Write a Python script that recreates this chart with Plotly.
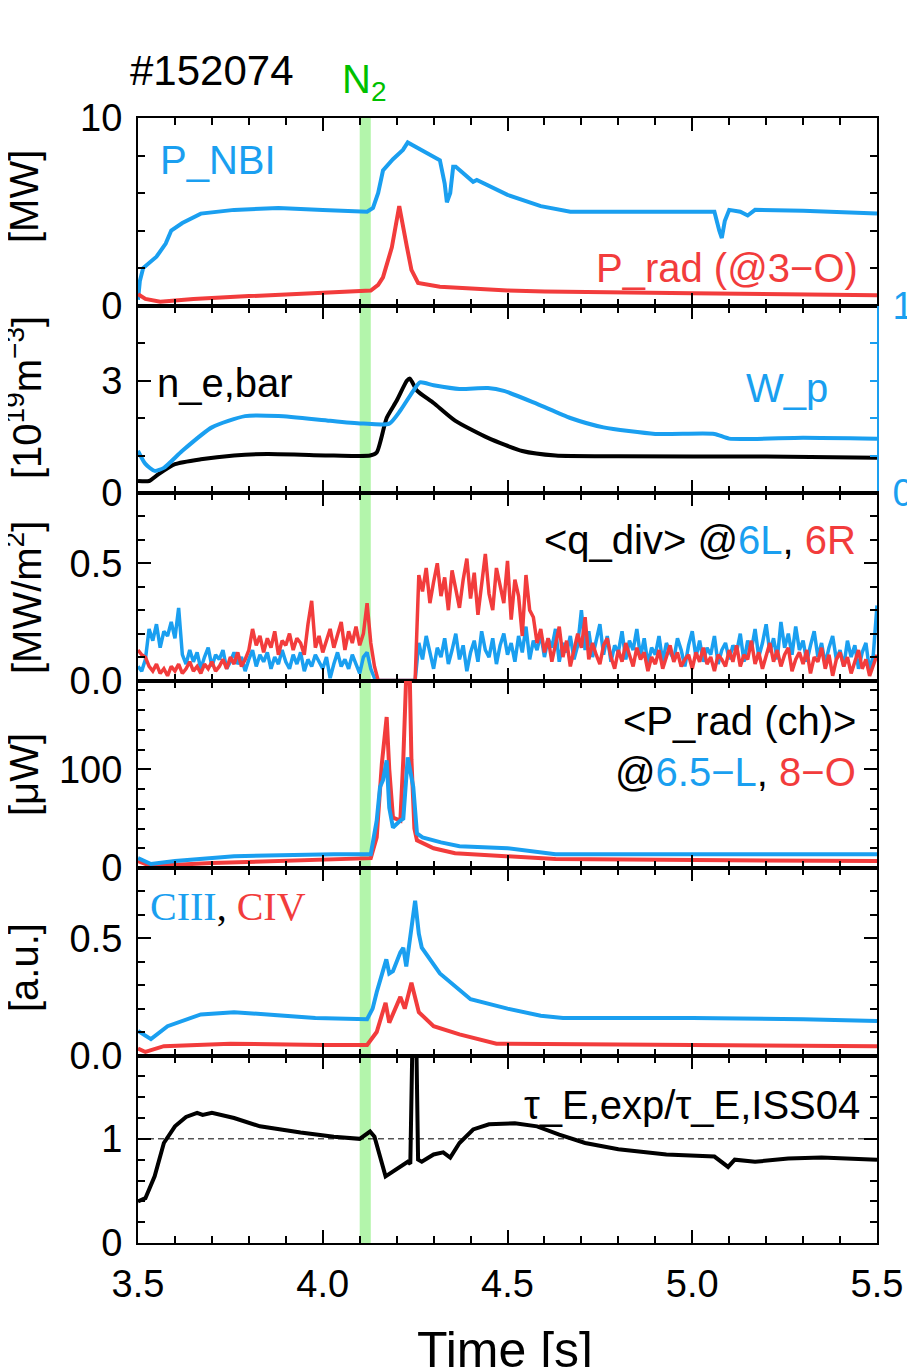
import numpy as np
import plotly.graph_objects as go

BLUE = "#1a9ff0"
RED = "#f23c3c"
BLACK = "#000000"
GREEN = "#b3f5ab"
FONT = "Liberation Sans, Arial, sans-serif"

# ---------------- data ----------------
# panel 1: P_NBI and P_rad (@3-O) [MW]
t_nbi = [3.500, 3.505, 3.514, 3.53, 3.55, 3.575, 3.59, 3.62, 3.67, 3.76, 3.88, 4.00, 4.12,
         4.136, 4.15, 4.163, 4.19, 4.217, 4.23, 4.317, 4.33, 4.336, 4.345, 4.353, 4.36,
         4.407, 4.417, 4.50, 4.59, 4.67, 5.06, 5.073, 5.08, 5.088, 5.10, 5.13, 5.15, 5.17,
         5.30, 5.50]
p_nbi = [0.3, 1.3, 2.0, 2.3, 2.6, 3.3, 4.0, 4.4, 4.9, 5.1, 5.2, 5.1, 5.0,
         5.2, 6.0, 7.2, 7.8, 8.3, 8.7, 7.75, 6.5, 5.5, 6.0, 7.4, 7.4,
         6.6, 6.7, 5.9, 5.3, 5.0, 5.0, 4.0, 3.6, 4.5, 5.1, 5.0, 4.8, 5.1,
         5.05, 4.9]
t_prad = [3.50, 3.52, 3.56, 3.65, 3.80, 4.00, 4.13, 4.15, 4.163, 4.187, 4.207, 4.228,
          4.24, 4.258, 4.317, 4.50, 4.60, 5.00, 5.50]
p_rad = [0.6, 0.35, 0.2, 0.35, 0.5, 0.65, 0.8, 1.1, 1.5, 3.1, 5.3, 3.1,
         1.9, 1.2, 1.0, 0.8, 0.75, 0.65, 0.55]

# panel 2: line-averaged density [1e19 m^-3] and W_p (right axis)
t_ne = [3.50, 3.53, 3.555, 3.60, 3.67, 3.76, 3.85, 4.03, 4.128, 4.146, 4.173, 4.20,
        4.228, 4.236, 4.255, 4.30, 4.358, 4.447, 4.54, 4.63, 4.80, 5.20, 5.50]
n_e = [0.32, 0.32, 0.5, 0.77, 0.9, 1.0, 1.04, 1.0, 1.0, 1.08, 2.0, 2.46,
       3.0, 3.05, 2.73, 2.4, 1.93, 1.47, 1.12, 1.0, 0.98, 0.97, 0.94]
t_wp = [3.50, 3.52, 3.545, 3.57, 3.62, 3.70, 3.79, 3.88, 4.02, 4.11, 4.18, 4.21,
        4.245, 4.263, 4.30, 4.37, 4.447, 4.49, 4.58, 4.67, 4.76, 4.90, 5.06, 5.10,
        5.30, 5.50]
w_p = [0.225, 0.155, 0.118, 0.134, 0.225, 0.35, 0.41, 0.41, 0.385, 0.37, 0.37, 0.44,
       0.545, 0.59, 0.575, 0.555, 0.56, 0.545, 0.475, 0.40, 0.35, 0.315, 0.315, 0.29,
       0.295, 0.29]

# panel 3: <q_div> at 6L (blue) and 6R (red) [MW/m^2], sampled every 10 ms
t_q = np.round(np.arange(3.50, 5.5001, 0.01), 2)
q_6L = [0.06, 0.04, 0.09, 0.22, 0.17, 0.24, 0.14, 0.21, 0.19, 0.25,
        0.18, 0.31, 0.11, 0.07, 0.13, 0.08, 0.12, 0.05, 0.10, 0.14,
        0.06, 0.11, 0.09, 0.13, 0.05, 0.08, 0.12, 0.07, 0.10, 0.04,
        0.09, 0.13, 0.06, 0.11, 0.08, 0.12, 0.05, 0.10, 0.07, 0.13,
        0.08, 0.05, 0.11, 0.07, 0.12, 0.04, 0.09, 0.06, 0.11, 0.08,
        0.05, 0.10, 0.01, 0.07, 0.12, 0.06, 0.09, 0.05, 0.11, 0.07,
        0.03, 0.10, 0.12, 0.05, 0.01, 0.00, 0.00, 0.00, 0.00, 0.00,
        0.00, 0.00, 0.00, 0.00, 0.00, 0.00, 0.16, 0.09, 0.19, 0.12,
        0.05, 0.14, 0.10, 0.18, 0.07, 0.13, 0.20, 0.09, 0.15, 0.04,
        0.12, 0.17, 0.08, 0.21, 0.13, 0.10, 0.18, 0.07, 0.15, 0.20,
        0.11, 0.16, 0.08, 0.19, 0.12, 0.23, 0.09, 0.17, 0.13, 0.20,
        0.10, 0.18, 0.14, 0.22, 0.08, 0.16, 0.12, 0.19, 0.09, 0.15,
        0.30, 0.13, 0.21, 0.10, 0.17, 0.24, 0.11, 0.19, 0.08, 0.15,
        0.12, 0.21, 0.09, 0.17, 0.13, 0.22, 0.10, 0.18, 0.07, 0.14,
        0.11, 0.19, 0.08, 0.16, 0.12, 0.09, 0.18, 0.13, 0.06, 0.15,
        0.21, 0.10, 0.17, 0.08, 0.14, 0.11, 0.19, 0.07, 0.13, 0.16,
        0.09, 0.15, 0.12, 0.20, 0.08, 0.17, 0.13, 0.22, 0.10, 0.16,
        0.24, 0.12, 0.18, 0.09, 0.25, 0.14, 0.20, 0.11, 0.23, 0.13,
        0.17, 0.08, 0.15, 0.21, 0.10, 0.16, 0.07, 0.14, 0.19, 0.09,
        0.13, 0.06, 0.17, 0.10, 0.15, 0.05, 0.12, 0.16, 0.04, 0.11,
        0.32]
q_6R = [0.13, 0.11, 0.10, 0.06, 0.04, 0.07, 0.03, 0.05, 0.02, 0.06,
        0.04, 0.07, 0.03, 0.05, 0.08, 0.04, 0.06, 0.03, 0.07, 0.05,
        0.08, 0.04, 0.06, 0.09, 0.05, 0.10, 0.07, 0.12, 0.06, 0.09,
        0.13, 0.22, 0.15, 0.19, 0.12, 0.18, 0.14, 0.21, 0.11, 0.17,
        0.15, 0.20, 0.13, 0.18, 0.16, 0.11, 0.24, 0.34, 0.14, 0.19,
        0.12, 0.17, 0.22, 0.14, 0.19, 0.25, 0.13, 0.21, 0.16, 0.23,
        0.15, 0.20, 0.33, 0.16, 0.06, 0.00, 0.00, 0.00, 0.00, 0.00,
        0.00, 0.00, 0.00, 0.00, 0.00, 0.00, 0.45, 0.38, 0.48, 0.33,
        0.42, 0.50, 0.36, 0.44, 0.30, 0.47, 0.39, 0.31, 0.43, 0.52,
        0.35, 0.46, 0.28, 0.41, 0.54, 0.37, 0.30, 0.48, 0.40, 0.33,
        0.51, 0.26, 0.43, 0.36, 0.19, 0.45, 0.30, 0.27, 0.16, 0.22,
        0.12, 0.18, 0.08, 0.15, 0.23, 0.10, 0.17, 0.06, 0.13, 0.20,
        0.14, 0.27, 0.09, 0.16, 0.11, 0.07, 0.15, 0.18, 0.10, 0.05,
        0.13, 0.08, 0.16, 0.11, 0.06, 0.14, 0.09, 0.12, 0.04, 0.10,
        0.07, 0.13, 0.05, 0.10, 0.15, 0.08, 0.12, 0.06, 0.09, 0.11,
        0.05, 0.12, 0.08, 0.14, 0.07, 0.10, 0.04, 0.11, 0.09, 0.06,
        0.13, 0.08, 0.15, 0.06, 0.11, 0.09, 0.17, 0.07, 0.12, 0.05,
        0.10, 0.16, 0.08, 0.13, 0.06, 0.11, 0.14, 0.04, 0.09, 0.12,
        0.07, 0.13, 0.03, 0.10, 0.08, 0.14, 0.05, 0.11, 0.02, 0.09,
        0.12, 0.06, 0.10, 0.03, 0.08, 0.13, 0.05, 0.09, 0.02, 0.07,
        0.11]

# panel 4: <P_rad(ch)> at 6.5-L (blue) and 8-O (red) [uW]
t_ch_b = [3.50, 3.535, 3.60, 3.76, 4.03, 4.13, 4.146, 4.155, 4.163, 4.173, 4.18, 4.19,
          4.21, 4.218, 4.23, 4.245, 4.255, 4.27, 4.32, 4.37, 4.50, 4.63, 5.50]
ch_b = [10, 4, 7, 12, 14, 14, 48, 82, 89, 109, 61, 41,
        48, 50, 112, 82, 35, 31, 26, 22, 20, 14, 14]
t_ch_r = [3.50, 3.535, 3.70, 4.00, 4.13, 4.146, 4.16, 4.173, 4.18, 4.19, 4.21, 4.218,
          4.226, 4.232, 4.24, 4.248, 4.255, 4.30, 4.358, 4.63, 5.50]
ch_r = [7, 2, 5, 9, 10, 31, 106, 153, 100, 51, 48, 110,
        260, 260, 110, 40, 28, 20, 15, 9, 7]

# panel 5: CIII (blue) and CIV (red) [a.u.]
t_c3 = [3.50, 3.535, 3.58, 3.67, 3.76, 3.85, 3.98, 4.12, 4.135, 4.146, 4.16, 4.172,
        4.18, 4.19, 4.21, 4.218, 4.226, 4.24, 4.25, 4.26, 4.268, 4.317, 4.40, 4.50,
        4.59, 4.65, 5.00, 5.30, 5.50]
c3 = [0.105, 0.07, 0.125, 0.175, 0.185, 0.175, 0.16, 0.155, 0.2, 0.27, 0.35, 0.41,
      0.35, 0.36, 0.44, 0.46, 0.38, 0.55, 0.66, 0.52, 0.46, 0.35, 0.24, 0.2,
      0.17, 0.16, 0.16, 0.155, 0.147]
t_c4 = [3.50, 3.52, 3.57, 3.75, 4.00, 4.12, 4.146, 4.17, 4.18, 4.21, 4.222, 4.24,
        4.26, 4.30, 4.37, 4.47, 5.00, 5.50]
c4 = [0.03, 0.015, 0.04, 0.05, 0.045, 0.045, 0.1, 0.225, 0.14, 0.25, 0.2, 0.31,
      0.185, 0.125, 0.09, 0.05, 0.045, 0.04]

# panel 6: tau_E,exp / tau_E,ISS04
t_tau = [3.50, 3.52, 3.545, 3.57, 3.60, 3.63, 3.66, 3.675, 3.70, 3.76, 3.83, 3.88,
         3.94, 4.03, 4.10, 4.128, 4.14, 4.17, 4.21, 4.23, 4.237, 4.243, 4.253, 4.258,
         4.268, 4.30, 4.326, 4.345, 4.37, 4.407, 4.45, 4.49, 4.52, 4.58, 4.64, 4.71,
         4.80, 4.93, 5.06, 5.097, 5.115, 5.17, 5.26, 5.35, 5.50]
tau = [0.40, 0.43, 0.64, 0.96, 1.12, 1.21, 1.25, 1.23, 1.25, 1.2, 1.12, 1.09,
       1.06, 1.02, 1.0, 1.07, 1.02, 0.64, 0.73, 0.78, 0.76, 2.0, 2.0, 0.8,
       0.78, 0.85, 0.87, 0.82, 0.96, 1.09, 1.14, 1.15, 1.15, 1.12, 1.04, 0.96,
       0.9, 0.85, 0.83, 0.73, 0.8, 0.78, 0.81, 0.82, 0.8]
t_ref = [3.5, 5.5]
tau_ref = [1.0, 1.0]

# N2 puff window [s]
n2_window = [4.10, 4.13]

# ---------------- geometry ----------------
# the page body has an 8 px margin; target positions are page pixels
OFF = 8
W, H = 915 - OFF, 1367 - OFF
L, R, T, B = 138, 877, 118, 1243   # plot area in page pixels


def pxx(x):
    return (x - L) / (R - L)


def pxy(y):
    return (B - y) / (B - T)


NROW = 6
dom = [[1 - r / NROW, 1 - (r - 1) / NROW] for r in range(1, NROW + 1)]

fig = go.Figure()
LW = 4


def add(x, y, color, row, yaxis=None, width=LW, dash=None, smooth=False):
    line = dict(color=color, width=width, dash=dash)
    if smooth:
        line.update(shape="spline", smoothing=0.6)
    fig.add_trace(go.Scatter(
        x=x, y=y, mode="lines", line=line,
        xaxis=f"x{row}" if row > 1 else "x",
        yaxis=yaxis or (f"y{row}" if row > 1 else "y"),
        showlegend=False, hoverinfo="skip"))


add(t_nbi, p_nbi, BLUE, 1)
add(t_prad, p_rad, RED, 1)
add(t_ne, n_e, BLACK, 2, smooth=True)
add(t_wp, w_p, BLUE, 2, yaxis="y7", smooth=True)
add(t_q, q_6L, BLUE, 3, width=3.5)
add(t_q, q_6R, RED, 3, width=3.5)
add(t_ch_r, ch_r, RED, 4)
add(t_ch_b, ch_b, BLUE, 4)
add(t_c3, c3, BLUE, 5)
add(t_c4, c4, RED, 5)
add(t_ref, tau_ref, BLACK, 6, width=1, dash="6px,4px")
add(t_tau, tau, BLACK, 6)

yspec = {
    1: dict(range=[0, 10], tickvals=[0, 10], ticktext=["0", "10"], minor=[2, 4, 6, 8]),
    2: dict(range=[0, 5], tickvals=[0, 3], ticktext=["0", "3"], minor=[1, 2, 4]),
    3: dict(range=[0, 0.8], tickvals=[0, 0.5], ticktext=["0.0", "0.5"],
            minor=[0.1, 0.2, 0.3, 0.4, 0.6, 0.7]),
    4: dict(range=[0, 190], tickvals=[0, 100], ticktext=["0", "100"],
            minor=[20, 40, 60, 80, 120, 140, 160, 180]),
    5: dict(range=[0, 0.8], tickvals=[0, 0.5], ticktext=["0.0", "0.5"],
            minor=[0.1, 0.2, 0.3, 0.4, 0.6, 0.7]),
    6: dict(range=[0, 1.8], tickvals=[0, 1], ticktext=["0", "1"],
            minor=[0.2, 0.4, 0.6, 0.8, 1.2, 1.4, 1.6]),
}

layout = dict(
    width=W, height=H,
    margin=dict(l=L - OFF, r=(W + OFF) - R, t=T - OFF, b=(H + OFF) - B, pad=0, autoexpand=False),
    paper_bgcolor="white", plot_bgcolor="rgba(0,0,0,0)",
    font=dict(family=FONT, size=38, color="black"),
    showlegend=False,
)

xticks = [3.5, 4.0, 4.5, 5.0, 5.5]
xminor = [3.6, 3.7, 3.8, 3.9, 4.1, 4.2, 4.3, 4.4, 4.6, 4.7, 4.8, 4.9, 5.1, 5.2, 5.3, 5.4]
for r in range(1, NROW + 1):
    xa = dict(
        domain=[0, 1], anchor=f"y{r}" if r > 1 else "y", range=[3.5, 5.5],
        showline=True, linecolor="black", linewidth=2, mirror="ticks",
        ticks="inside", ticklen=13, tickwidth=2, tickcolor="black",
        tickvals=xticks, ticktext=["3.5", "4.0", "4.5", "5.0", "5.5"],
        minor=dict(tickvals=xminor, ticks="inside", ticklen=7, tickwidth=2, tickcolor="black"),
        showgrid=False, zeroline=False, automargin=False,
        showticklabels=(r == NROW), tickfont=dict(size=38),
        ticklabelstandoff=6,
    )
    if r > 1:
        xa["matches"] = "x"
    layout["xaxis" if r == 1 else f"xaxis{r}"] = xa
    s = yspec[r]
    ya = dict(
        domain=dom[r - 1], anchor=f"x{r}" if r > 1 else "x", range=s["range"],
        showline=True, linecolor="black", linewidth=2,
        mirror=False if r == 2 else "ticks",
        ticks="inside", ticklen=13, tickwidth=2, tickcolor="black",
        tickvals=s["tickvals"], ticktext=s["ticktext"],
        minor=dict(tickvals=s["minor"], ticks="inside", ticklen=7, tickwidth=2, tickcolor="black"),
        showgrid=False, zeroline=False, tickfont=dict(size=38), automargin=False,
        ticklabelstandoff=6,
    )
    layout["yaxis" if r == 1 else f"yaxis{r}"] = ya

layout["yaxis7"] = dict(
    overlaying="y2", side="right", anchor="x2", range=[0, 1],
    showline=True, linecolor=BLUE, linewidth=2,
    ticks="inside", ticklen=13, tickwidth=2, tickcolor=BLUE,
    tickvals=[0, 1], ticktext=["0", "1"],
    minor=dict(tickvals=[0.2, 0.4, 0.6, 0.8], ticks="inside", ticklen=7, tickwidth=2, tickcolor=BLUE),
    showgrid=False, zeroline=False, tickfont=dict(size=38, color=BLUE), automargin=False,
    ticklabelstandoff=6,
)

fig.update_layout(**layout)

# N2 puff band in every panel
shapes = []
for r in range(1, NROW + 1):
    shapes.append(dict(
        type="rect", xref="x" if r == 1 else f"x{r}",
        yref=("y" if r == 1 else f"y{r}") + " domain",
        x0=n2_window[0], x1=n2_window[1], y0=0, y1=1,
        fillcolor=GREEN, line=dict(width=0), layer="below"))
fig.update_layout(shapes=shapes)


def ann(text, x, y, xanchor="left", color="black", size=40, angle=0, family=FONT):
    fig.add_annotation(
        text=text, x=pxx(x), y=pxy(y), xref="paper", yref="paper",
        xanchor=xanchor, yanchor="middle", showarrow=False, textangle=angle,
        font=dict(size=size, color=color, family=family))


def span(t, c):
    return f'<span style="color:{c}">{t}</span>'


ann("#152074", 128, 70, size=42)
ann("N<sub>2</sub>", 340, 82, color="#00c000", size=40)
ann("P_NBI", 158, 160, color=BLUE)
ann("P_rad (@3−O)", 860, 268, xanchor="right", color=RED)
ann("n_e,bar", 155, 383)
ann("W_p", 830, 388, xanchor="right", color=BLUE)
ann("&lt;q_div&gt; @" + span("6L", BLUE) + ", " + span("6R", RED), 858, 540, xanchor="right")
ann("&lt;P_rad (ch)&gt;", 858, 721, xanchor="right")
ann("@" + span("6.5−L", BLUE) + ", " + span("8−O", RED), 858, 772, xanchor="right")
ann(span("CIII", BLUE) + ", " + span("CIV", RED), 148, 906,
    family="Liberation Serif, Times New Roman, serif")
ann("τ_E,exp/τ_E,ISS04", 862, 1105, xanchor="right")
ann("Time [s]", 505, 1350, xanchor="center", size=50)

# y-axis titles
ann("[MW]", 24, 197, xanchor="center", angle=-90, size=40)
ann("[10<sup>19</sup>m<sup>−3</sup>]", 24, 398, xanchor="center", angle=-90, size=40)
ann("[MW/m<sup>2</sup>]", 24, 598, xanchor="center", angle=-90, size=40)
ann("[μW]", 24, 775, xanchor="center", angle=-90, size=40)
ann("[a.u.]", 24, 968, xanchor="center", angle=-90, size=40)

fig.write_html("out.html")
